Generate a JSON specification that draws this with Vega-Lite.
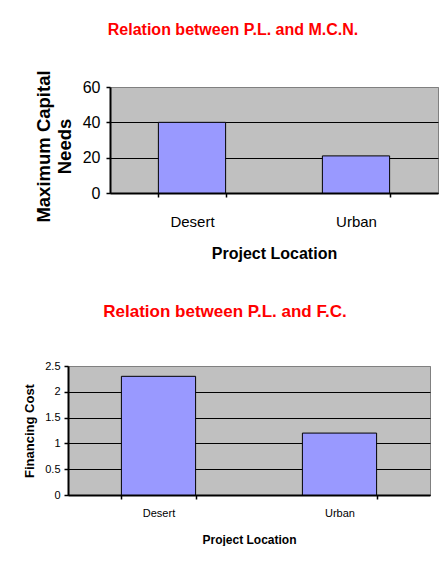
{
  "$schema": "https://vega.github.io/schema/vega-lite/v6.json",
  "padding": {"left": 0, "top": 21, "right": 0, "bottom": 0},
  "background": "white",
  "config": {
    "font": "Liberation Sans",
    "view": {"fill": "#C0C0C0", "stroke": "#808080", "strokeWidth": 1},
    "axis": {
      "labelFont": "Liberation Sans",
      "titleFont": "Liberation Sans",
      "labelColor": "black",
      "titleColor": "black",
      "domainColor": "black",
      "tickColor": "black",
      "gridColor": "black",
      "gridOpacity": 1
    },
    "title": {"font": "Liberation Sans", "color": "#FF0000", "fontWeight": "bold", "frame": "group"}
  },
  "spacing": 40,
  "vconcat": [
    {
      "spacing": 0,
      "hconcat": [
        {
          "width": 34,
          "height": 10,
          "data": {"values": []},
          "mark": "point",
          "view": {"stroke": null, "fill": null}
        },
        {
          "width": 328,
          "height": 106,
          "title": {"text": "Relation between P.L. and M.C.N.", "fontSize": 16, "offset": 31.5, "dx": -41},
          "data": {"values": [
            {"location": "Desert", "needs": 40},
            {"location": "Urban", "needs": 21}
          ]},
          "mark": {"type": "bar", "color": "#9999FF", "stroke": "black", "strokeWidth": 1},
          "encoding": {
            "x": {
              "field": "location", "type": "nominal",
              "scale": {"paddingInner": 0.59, "paddingOuter": 0.295},
              "axis": {
                "title": "Project Location", "labelAngle": 0, "labelFontSize": 15,
                "titleFontSize": 16, "titleFontWeight": "bold", "tickBand": "extent",
                "tickSize": 4, "tickWidth": 1.5, "domainWidth": 2, "labelPadding": 17, "titlePadding": 16
              }
            },
            "y": {
              "field": "needs", "type": "quantitative",
              "scale": {"domain": [0, 60]},
              "axis": {
                "title": ["Maximum Capital", "Needs"], "values": [0, 20, 40, 60], "grid": true,
                "gridColor": {"condition": {"test": "datum.value == 60", "value": "#808080"}, "value": "black"},
                "labelFontSize": 16, "titleFontSize": 18.5, "titleFontWeight": "bold", "titleLineHeight": 20.5,
                "titleY": 59,
                "tickSize": 4, "tickWidth": 1.5, "domainWidth": 2, "labelPadding": 6, "titlePadding": 8
              }
            }
          }
        }
      ]
    },
    {
      "spacing": 0,
      "hconcat": [
        {
          "width": 23,
          "height": 10,
          "data": {"values": []},
          "mark": "point",
          "view": {"stroke": null, "fill": null}
        },
        {
          "width": 362,
          "height": 129,
          "title": {"text": "Relation between P.L. and F.C.", "fontSize": 17, "offset": 39.5, "dx": -24},
          "data": {"values": [
            {"location": "Desert", "cost": 2.3},
            {"location": "Urban", "cost": 1.2}
          ]},
          "mark": {"type": "bar", "color": "#9999FF", "stroke": "black", "strokeWidth": 1},
          "encoding": {
            "x": {
              "field": "location", "type": "nominal",
              "scale": {"paddingInner": 0.59, "paddingOuter": 0.295},
              "axis": {
                "title": "Project Location", "labelAngle": 0, "labelFontSize": 11,
                "titleFontSize": 12, "titleFontWeight": "bold", "tickBand": "extent",
                "tickSize": 4, "tickWidth": 1.5, "domainWidth": 2, "labelPadding": 8, "titlePadding": 16
              }
            },
            "y": {
              "field": "cost", "type": "quantitative",
              "scale": {"domain": [0, 2.5]},
              "axis": {
                "title": "Financing Cost", "values": [0, 0.5, 1, 1.5, 2, 2.5], "format": "~g", "grid": true,
                "gridColor": {"condition": {"test": "datum.value == 2.5", "value": "#808080"}, "value": "black"},
                "labelFontSize": 11, "titleFontSize": 13, "titleFontWeight": "bold",
                "tickSize": 4, "tickWidth": 1.5, "domainWidth": 2, "labelPadding": 4, "titlePadding": 8
              }
            }
          }
        }
      ]
    }
  ]
}
